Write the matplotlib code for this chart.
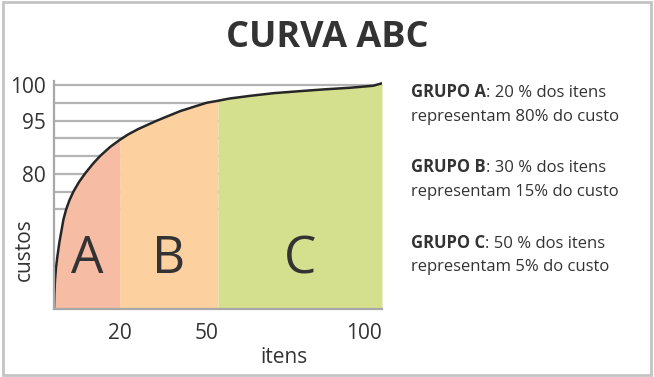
import numpy as np
import matplotlib.pyplot as plt
from matplotlib.patches import Rectangle

plt.rcParams['font.family'] = ['Open Sans', 'DejaVu Sans']

# curva acumulada (leitura aproximada do desenho)
itens = [0, 0.1, 0.3, 0.6, 1.0, 1.6, 2.3, 2.9, 3.7, 4.7, 5.9, 7.6, 9.5, 11.7, 14.0,
         17.2, 20, 22.5, 25.7, 31.3, 38.5, 46.5, 50, 53.5, 59.8, 67, 75, 82.5,
         90.2, 97.3, 100]
custos = [0, 6.3, 12.9, 18.5, 23.2, 29.5, 35.3, 40.2, 44.5, 48.6, 52.4, 56.7, 60.6,
          64.6, 68.3, 72.5, 75.5, 77.9, 80.4, 84.1, 88.4, 92.1, 93.0, 94.0, 95.2,
          96.4, 97.3, 98.1, 98.8, 99.7, 100.8]

limites = [0, 20, 50, 100]
grupos = ['A', 'B', 'C']
cores = ['#F7BDA4', '#FCD09F', '#D4E08E']

grade = [100, 92.1, 84.1, 76.2, 68.3, 60.4, 52.4, 44.5]
yticks_pos = [100, 84.1, 60.4]
yticks_lab = ['100', '95', '80']
xticks = [20, 50, 100]

textos = [('GRUPO A', ': 20 % dos itens', 'representam 80% do custo'),
          ('GRUPO B', ': 30 % dos itens', 'representam 15% do custo'),
          ('GRUPO C', ': 50 % dos itens', 'representam 5% do custo')]

cor_txt = '#333333'
cinza = '#b4b4b4'

fig = plt.figure(figsize=(6.54, 3.77), dpi=100)
fig.patches.append(Rectangle((0.004, 0.004), 0.992, 0.992, transform=fig.transFigure,
                             fill=False, ec='#c4c4c4', lw=2))

ax = fig.add_axes([0.0826, 0.180, 0.5015, 0.605])
x = np.array(itens)
y = np.array(custos)

for g in grade:
    ax.plot([0, 100], [g, g], color=cinza, lw=1.6, zorder=1)

for i in range(3):
    m = (x >= limites[i]) & (x <= limites[i + 1])
    ax.fill_between(x[m], y[m], 0, color=cores[i], lw=0, zorder=2)
    ax.text((limites[i] + limites[i + 1]) / 2, 16, grupos[i], fontsize=37,
            color=cor_txt, ha='center', va='baseline', zorder=4)

ax.plot(x, y, color='#262626', lw=1.8, zorder=3, solid_capstyle='round')

ax.set_xlim(0, 100)
ax.set_ylim(0, 101.8)
for s in ['top', 'right']:
    ax.spines[s].set_visible(False)
for s in ['left', 'bottom']:
    ax.spines[s].set_color('#a8a8a8')
    ax.spines[s].set_linewidth(1.6)
    ax.spines[s].set_zorder(5)

ax.set_yticks(yticks_pos, yticks_lab)
ax.set_xticks(xticks, [str(v) for v in xticks])
ax.tick_params(length=0, labelsize=15, colors=cor_txt)
ax.tick_params(axis='y', pad=6)
ax.tick_params(axis='x', pad=10)
for lab, ha in zip(ax.get_xticklabels(), ['center', 'right', 'right']):
    lab.set_ha(ha)

ax.set_xlabel('itens', fontsize=15, color=cor_txt)
ax.xaxis.set_label_coords(0.70, -0.165)
ax.set_ylabel('custos', fontsize=15, color=cor_txt)
ax.yaxis.set_label_coords(-0.058, 0.26)

fig.text(0.5, 0.875, 'CURVA ABC', fontsize=26, fontweight='bold', color=cor_txt,
         ha='center', va='baseline')

linhas_y = [0.743, 0.543, 0.343]
for (bold, resto, linha2), y0 in zip(textos, linhas_y):
    t = fig.text(0.629, y0, bold, fontsize=12, fontweight='bold', color=cor_txt,
                 va='baseline')
    ax.annotate(resto, xy=(1, 0), xycoords=t, va='bottom', fontsize=12, color=cor_txt,
                annotation_clip=False)
    fig.text(0.629, y0 - 0.063, linha2, fontsize=12, color=cor_txt, va='baseline')

fig.savefig('out.png', dpi=100)
